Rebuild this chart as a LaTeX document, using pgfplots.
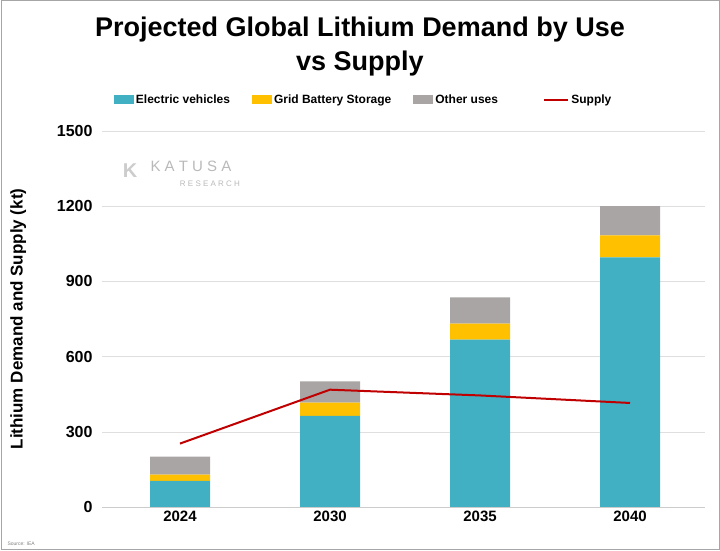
\documentclass[border=0pt]{standalone}
\usepackage{pgfplots}
\pgfplotsset{compat=1.18}
\usepackage{fontspec}
\setmainfont{Liberation Sans}
\definecolor{ev}{HTML}{41B0C3}
\definecolor{grid}{HTML}{FFC000}
\definecolor{oth}{HTML}{A9A5A5}
\definecolor{sup}{HTML}{C00000}
\begin{document}
\begin{tikzpicture}
\useasboundingbox (0pt,0pt) rectangle (720pt,551pt);
\draw[gray!70,line width=1pt] (1pt,1pt) rectangle (719pt,550pt);
\node[font=\bfseries\fontsize{27}{34}\selectfont,align=center] at (360pt,504pt) {Projected Global Lithium Demand by Use\\vs Supply};
\node[font=\fontsize{15}{17}\selectfont,text=gray!55] at (191pt,385pt) {K A T U S A};
\node[font=\fontsize{8}{9}\selectfont,text=gray!55] at (210pt,367pt) {R E S E A R C H};
\node[font=\fontsize{20}{20}\selectfont,text=gray!40] at (130pt,380pt) {\bfseries K};
\node[font=\fontsize{5}{6}\selectfont,text=gray,anchor=west] at (4pt,7pt) {Source: IEA};
\begin{axis}[at={(102pt,44pt)},anchor=south west,scale only axis,width=603pt,height=376pt,
  ybar stacked, bar width=60pt,
  xmin=-0.52,xmax=3.5,ymin=0,ymax=1500,
  xtick=data,xticklabels={2024,2030,2035,2040},
  ytick={0,300,600,900,1200,1500},
  yticklabel style={/pgf/number format/1000 sep={},xshift=-6pt,font=\bfseries\fontsize{16}{18}\selectfont},
  ymajorgrids,grid style={gray!25},
  axis x line*=bottom, axis y line*=left,
  y axis line style={draw=none},
  x axis line style={gray!40},
  xtick style={draw=none},ytick style={draw=none},
  xticklabel style={font=\bfseries\fontsize{15}{17}\selectfont},
  /pgf/number format/assume math mode=true,
  ylabel={\bfseries Lithium Demand and Supply (kt)},
  ylabel style={font=\fontsize{17}{20}\selectfont,at={(-0.12,0.5)}},
  legend columns=3,
  legend style={draw=none,at={(0.34,1.082)},anchor=center,font=\bfseries\fontsize{12}{14}\selectfont,/tikz/every even column/.append style={column sep=20pt}},
  legend image code/.code={\draw[#1,draw=none] (0pt,-4pt) rectangle (20pt,5pt);},
]
\addplot[fill=ev,draw=none] coordinates {(0,104) (1,364) (2,668) (3,996)};
\addlegendentry{Electric vehicles}
\addplot[fill=grid,draw=none] coordinates {(0,25) (1,52) (2,64) (3,88)};
\addlegendentry{Grid Battery Storage}
\addplot[fill=oth,draw=none] coordinates {(0,72) (1,85) (2,104) (3,116)};
\addlegendentry{Other uses}
\end{axis}
\begin{axis}[at={(102pt,44pt)},anchor=south west,scale only axis,width=603pt,height=376pt,
  xmin=-0.52,xmax=3.5,ymin=0,ymax=1500,axis lines=none,
  legend style={draw=none,at={(0.79,1.082)},anchor=center,font=\bfseries\fontsize{12}{14}\selectfont},
  legend image code/.code={\draw[#1] (0pt,0pt) -- (24pt,0pt);}]
\addplot[sup,line width=2pt] coordinates {(0,253) (1,468) (2,445) (3,415)};
\addlegendentry{Supply}
\end{axis}
\end{tikzpicture}
\end{document}
